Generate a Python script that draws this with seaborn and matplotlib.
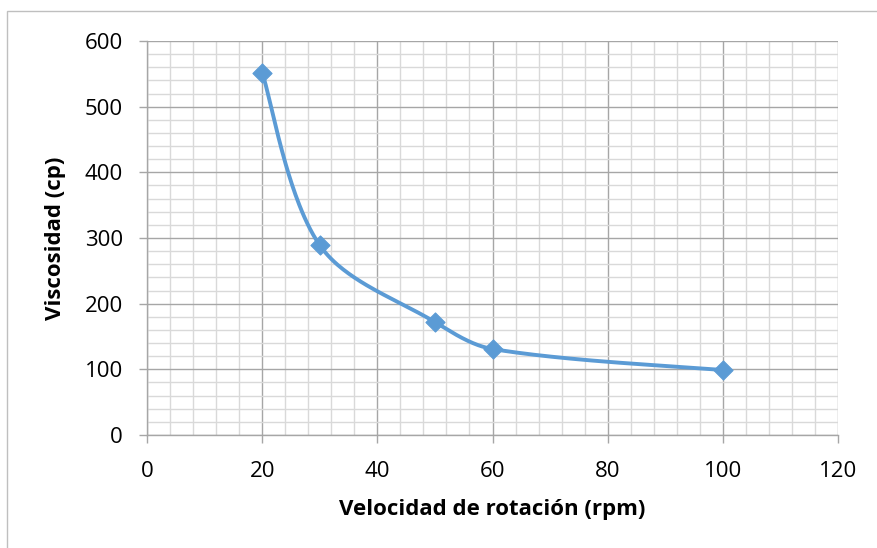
import numpy as np
import pandas as pd
import matplotlib.pyplot as plt
import seaborn as sns
from matplotlib.patches import Rectangle
from matplotlib.ticker import MultipleLocator

# data
velocidad = [20, 30, 50, 60, 100]
viscosidad = [552, 289, 172, 131, 99]

x_ticks = [0, 20, 40, 60, 80, 100, 120]
y_ticks = [0, 100, 200, 300, 400, 500, 600]

LINE_COLOR = "#5B9BD5"
MAJOR_GRID = "#a6a6a6"
MINOR_GRID = "#d9d9d9"

# pixel scale of the plot area (used only for smoothing distances)
PX_X = 690 / 120
PX_Y = 394 / 600


def excel_smooth(xs, ys, n=60):
    """Bezier smoothing with chord-length weighted tangents (Excel-like)."""
    pts = np.column_stack([xs, ys]).astype(float)
    scale = np.array([PX_X, PX_Y])

    def dist(a, b):
        return np.hypot(*((b - a) * scale))

    out = []
    for i in range(len(pts) - 1):
        p0 = pts[i - 1] if i > 0 else pts[i]
        p1 = pts[i]
        p2 = pts[i + 1]
        p3 = pts[i + 2] if i + 2 < len(pts) else pts[i + 1]
        d01, d12, d23 = dist(p0, p1), dist(p1, p2), dist(p2, p3)
        w1 = d12 / (d01 + d12) if d01 > 0 else 0.5
        w2 = d12 / (d12 + d23) if d23 > 0 else 0.5
        c1 = p1 + (p2 - p0) * w1 / 3.0
        c2 = p2 - (p3 - p1) * w2 / 3.0
        t = np.linspace(0, 1, n)[:, None]
        seg = ((1 - t) ** 3) * p1 + 3 * ((1 - t) ** 2) * t * c1 \
            + 3 * (1 - t) * t ** 2 * c2 + t ** 3 * p2
        out.append(seg if i == 0 else seg[1:])
    return np.vstack(out)


sns.set_style("white")
plt.rcParams["font.family"] = ["Open Sans", "DejaVu Sans"]
plt.rcParams["text.color"] = "black"
plt.rcParams["axes.labelcolor"] = "black"

df = pd.DataFrame({"Velocidad": velocidad, "Viscosidad": viscosidad})
curve = excel_smooth(velocidad, viscosidad)
df_curve = pd.DataFrame({"Velocidad": curve[:, 0], "Viscosidad": curve[:, 1]})

fig = plt.figure(figsize=(8.77, 5.48), dpi=100)
ax = fig.add_axes([147 / 877, 1 - 435 / 548, 691 / 877, 394 / 548])

# outer chart frame (cropped at right / bottom like the source)
fig.patches.append(Rectangle((7 / 877, -0.05), 1.1, 1 - 11 / 548 + 0.05,
                             transform=fig.transFigure, fill=False,
                             edgecolor="#bfbfbf", linewidth=1.0))

sns.lineplot(data=df_curve, x="Velocidad", y="Viscosidad", sort=False,
             color=LINE_COLOR, linewidth=2.8, ax=ax, zorder=3)
sns.scatterplot(data=df, x="Velocidad", y="Viscosidad", marker="D", s=95,
                color=LINE_COLOR, edgecolor=LINE_COLOR, ax=ax, zorder=4)

ax.set_xlim(0, 120)
ax.set_ylim(0, 600)
ax.set_xticks(x_ticks)
ax.set_yticks(y_ticks)
ax.xaxis.set_minor_locator(MultipleLocator(4))
ax.yaxis.set_minor_locator(MultipleLocator(20))

ax.grid(which="major", color=MAJOR_GRID, linewidth=1.0)
ax.grid(which="minor", color=MINOR_GRID, linewidth=1.0)
ax.set_axisbelow(True)

for side in ["top", "right"]:
    ax.spines[side].set_visible(False)
for side in ["left", "bottom"]:
    ax.spines[side].set_color(MAJOR_GRID)
    ax.spines[side].set_linewidth(1.0)

ax.tick_params(which="major", length=5.5, width=1.0, color=MAJOR_GRID,
               labelsize=16, labelcolor="black", direction="out")
ax.tick_params(axis="x", which="major", pad=13, bottom=True)
ax.tick_params(axis="y", which="major", pad=12, left=True)
ax.tick_params(which="minor", length=0)

ax.set_xlabel("Velocidad de rotación (rpm)", fontsize=16, fontweight="bold",
              color="black")
ax.set_ylabel("Viscosidad (cp)", fontsize=16, fontweight="bold", color="black")
ax.xaxis.set_label_coords(0.5, -(510 - 435) / 394)
ax.yaxis.set_label_coords((55 - 147) / 691, 0.5)
ax.xaxis.label.set_va("center")
ax.yaxis.label.set_va("center")

fig.savefig("out.png", dpi=100)
